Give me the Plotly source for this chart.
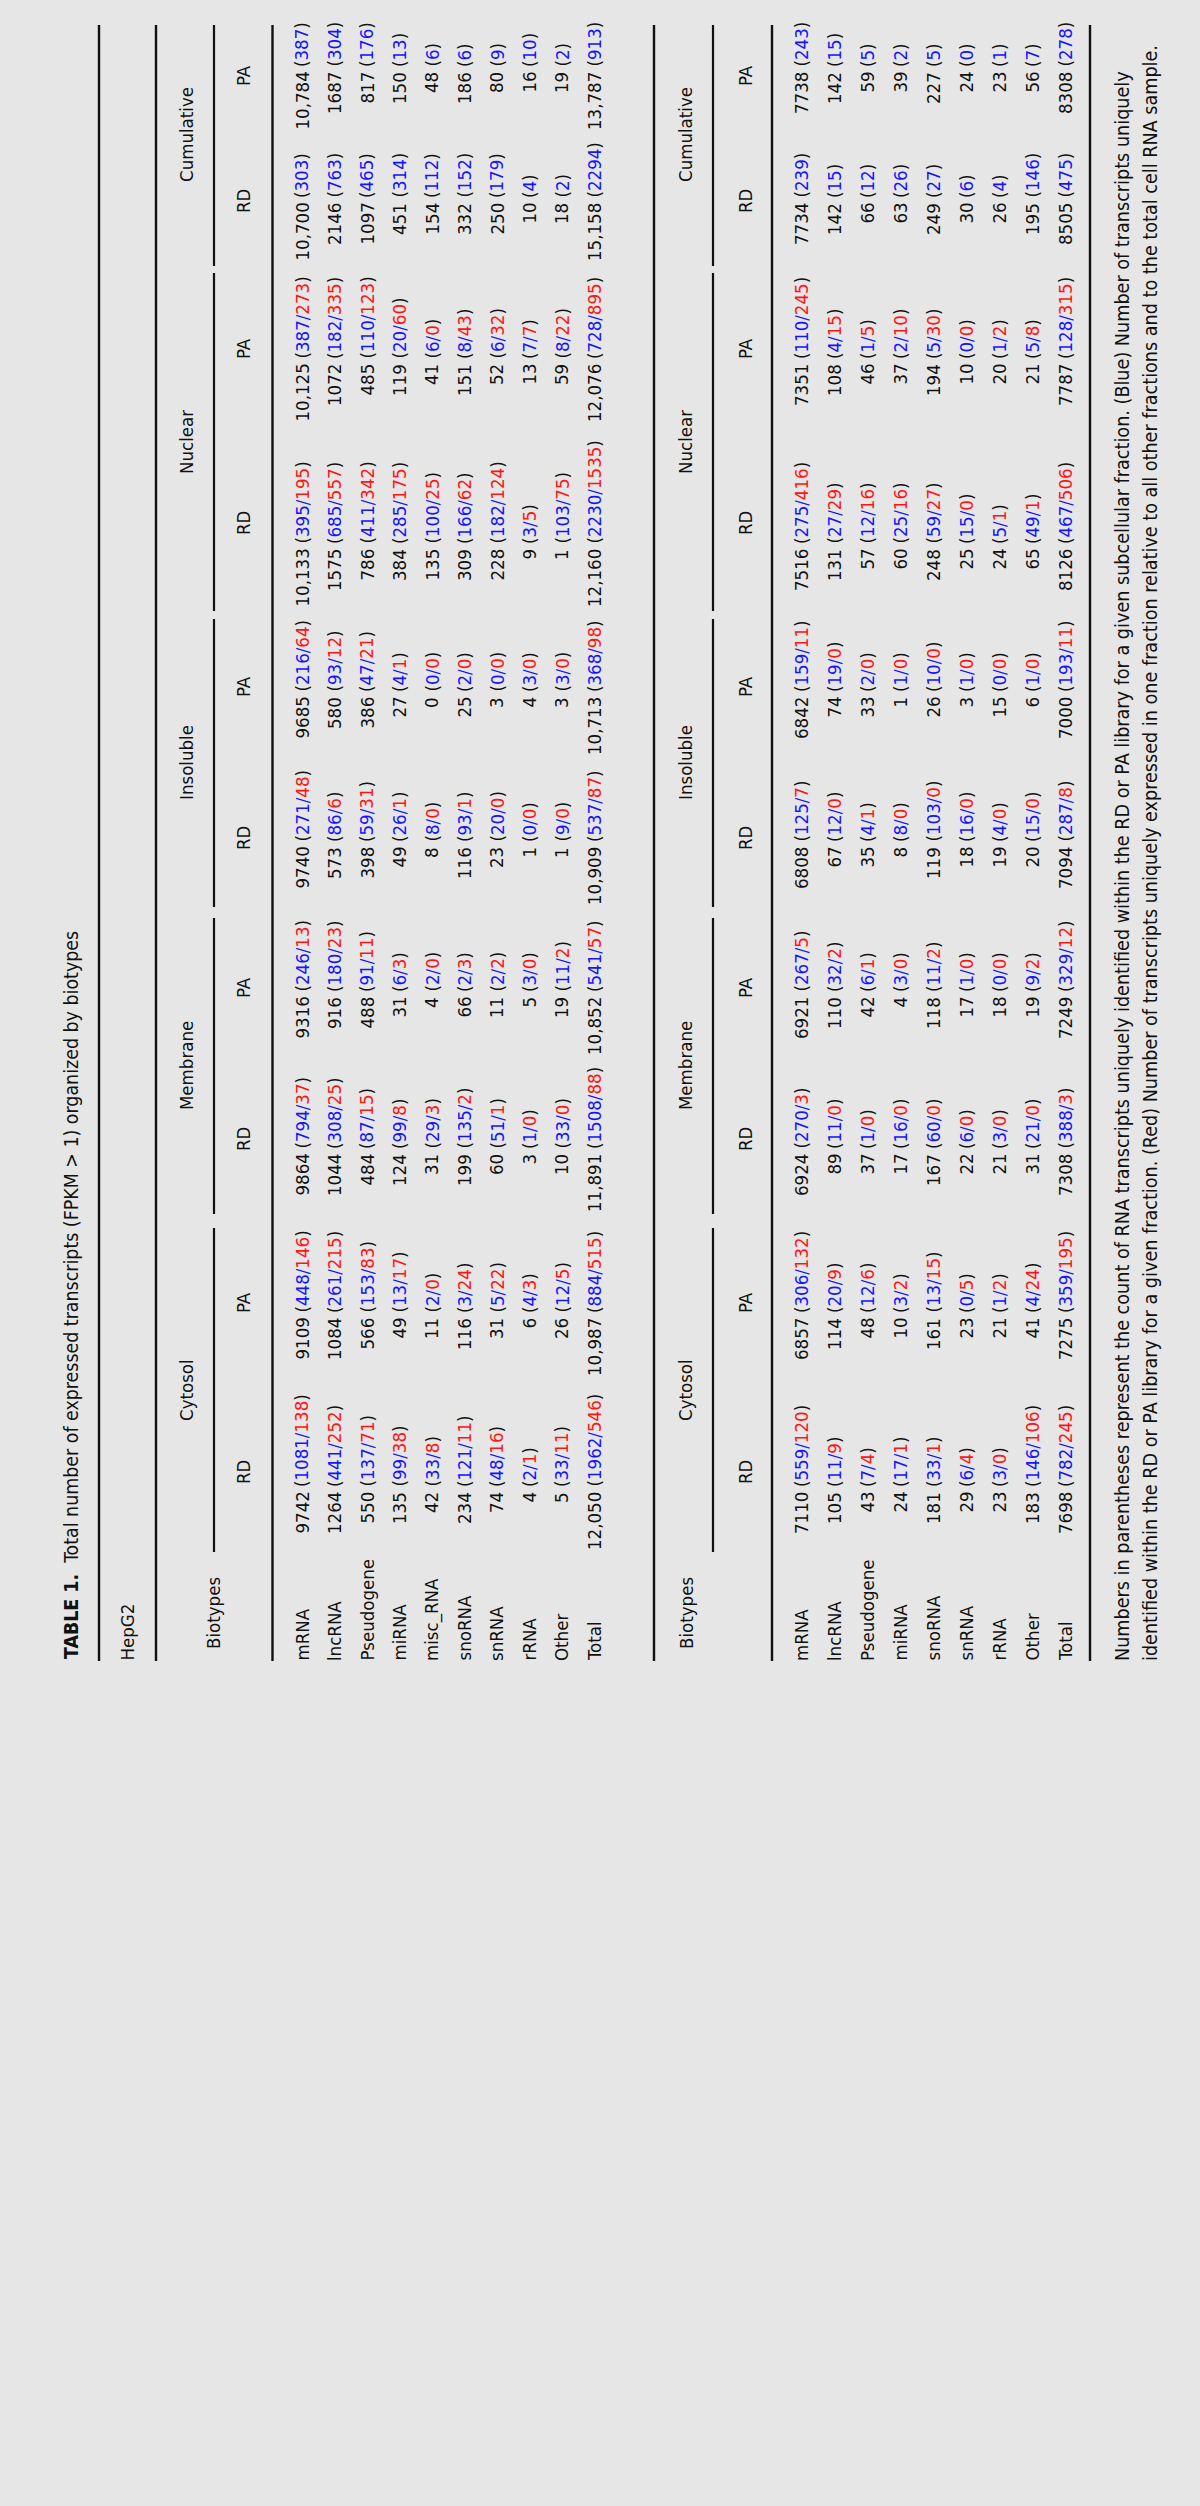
import plotly.graph_objects as go

# ------------------------------------------------------------------ data
fractions = ["Cytosol", "Membrane", "Insoluble", "Nuclear", "Cumulative"]
libraries = ["RD", "PA"]

top_biotypes = ["mRNA", "lncRNA", "Pseudogene", "miRNA", "misc_RNA", "snoRNA",
                "snRNA", "rRNA", "Other", "Total"]
bottom_biotypes = ["mRNA", "lncRNA", "Pseudogene", "miRNA", "snoRNA", "snRNA",
                   "rRNA", "Other", "Total"]

# ---- top table (HepG2)
top_cytosol_rd = [9742, 1264, 550, 135, 42, 234, 74, 4, 5, 12050]
top_cytosol_rd_blue = [1081, 441, 137, 99, 33, 121, 48, 2, 33, 1962]
top_cytosol_rd_red = [138, 252, 71, 38, 8, 11, 16, 1, 11, 546]
top_cytosol_pa = [9109, 1084, 566, 49, 11, 116, 31, 6, 26, 10987]
top_cytosol_pa_blue = [448, 261, 153, 13, 2, 3, 5, 4, 12, 884]
top_cytosol_pa_red = [146, 215, 83, 17, 0, 24, 22, 3, 5, 515]
top_membrane_rd = [9864, 1044, 484, 124, 31, 199, 60, 3, 10, 11891]
top_membrane_rd_blue = [794, 308, 87, 99, 29, 135, 51, 1, 33, 1508]
top_membrane_rd_red = [37, 25, 15, 8, 3, 2, 1, 0, 0, 88]
top_membrane_pa = [9316, 916, 488, 31, 4, 66, 11, 5, 19, 10852]
top_membrane_pa_blue = [246, 180, 91, 6, 2, 2, 2, 3, 11, 541]
top_membrane_pa_red = [13, 23, 11, 3, 0, 3, 2, 0, 2, 57]
top_insoluble_rd = [9740, 573, 398, 49, 8, 116, 23, 1, 1, 10909]
top_insoluble_rd_blue = [271, 86, 59, 26, 8, 93, 20, 0, 9, 537]
top_insoluble_rd_red = [48, 6, 31, 1, 0, 1, 0, 0, 0, 87]
top_insoluble_pa = [9685, 580, 386, 27, 0, 25, 3, 4, 3, 10713]
top_insoluble_pa_blue = [216, 93, 47, 4, 0, 2, 0, 3, 3, 368]
top_insoluble_pa_red = [64, 12, 21, 1, 0, 0, 0, 0, 0, 98]
top_nuclear_rd = [10133, 1575, 786, 384, 135, 309, 228, 9, 1, 12160]
top_nuclear_rd_blue = [395, 685, 411, 285, 100, 166, 182, 3, 103, 2230]
top_nuclear_rd_red = [195, 557, 342, 175, 25, 62, 124, 5, 75, 1535]
top_nuclear_pa = [10125, 1072, 485, 119, 41, 151, 52, 13, 59, 12076]
top_nuclear_pa_blue = [387, 182, 110, 20, 6, 8, 6, 7, 8, 728]
top_nuclear_pa_red = [273, 335, 123, 60, 0, 43, 32, 7, 22, 895]
top_cumulative_rd = [10700, 2146, 1097, 451, 154, 332, 250, 10, 18, 15158]
top_cumulative_rd_blue = [303, 763, 465, 314, 112, 152, 179, 4, 2, 2294]
top_cumulative_pa = [10784, 1687, 817, 150, 48, 186, 80, 16, 19, 13787]
top_cumulative_pa_blue = [387, 304, 176, 13, 6, 6, 9, 10, 2, 913]

# ---- bottom table
bot_cytosol_rd = [7110, 105, 43, 24, 181, 29, 23, 183, 7698]
bot_cytosol_rd_blue = [559, 11, 7, 17, 33, 6, 3, 146, 782]
bot_cytosol_rd_red = [120, 9, 4, 1, 1, 4, 0, 106, 245]
bot_cytosol_pa = [6857, 114, 48, 10, 161, 23, 21, 41, 7275]
bot_cytosol_pa_blue = [306, 20, 12, 3, 13, 0, 1, 4, 359]
bot_cytosol_pa_red = [132, 9, 6, 2, 15, 5, 2, 24, 195]
bot_membrane_rd = [6924, 89, 37, 17, 167, 22, 21, 31, 7308]
bot_membrane_rd_blue = [270, 11, 1, 16, 60, 6, 3, 21, 388]
bot_membrane_rd_red = [3, 0, 0, 0, 0, 0, 0, 0, 3]
bot_membrane_pa = [6921, 110, 42, 4, 118, 17, 18, 19, 7249]
bot_membrane_pa_blue = [267, 32, 6, 3, 11, 1, 0, 9, 329]
bot_membrane_pa_red = [5, 2, 1, 0, 2, 0, 0, 2, 12]
bot_insoluble_rd = [6808, 67, 35, 8, 119, 18, 19, 20, 7094]
bot_insoluble_rd_blue = [125, 12, 4, 8, 103, 16, 4, 15, 287]
bot_insoluble_rd_red = [7, 0, 1, 0, 0, 0, 0, 0, 8]
bot_insoluble_pa = [6842, 74, 33, 1, 26, 3, 15, 6, 7000]
bot_insoluble_pa_blue = [159, 19, 2, 1, 10, 1, 0, 1, 193]
bot_insoluble_pa_red = [11, 0, 0, 0, 0, 0, 0, 0, 11]
bot_nuclear_rd = [7516, 131, 57, 60, 248, 25, 24, 65, 8126]
bot_nuclear_rd_blue = [275, 27, 12, 25, 59, 15, 5, 49, 467]
bot_nuclear_rd_red = [416, 29, 16, 16, 27, 0, 1, 1, 506]
bot_nuclear_pa = [7351, 108, 46, 37, 194, 10, 20, 21, 7787]
bot_nuclear_pa_blue = [110, 4, 1, 2, 5, 0, 1, 5, 128]
bot_nuclear_pa_red = [245, 15, 5, 10, 30, 0, 2, 8, 315]
bot_cumulative_rd = [7734, 142, 66, 63, 249, 30, 26, 195, 8505]
bot_cumulative_rd_blue = [239, 15, 12, 26, 27, 6, 4, 146, 475]
bot_cumulative_pa = [7738, 142, 59, 39, 227, 24, 23, 56, 8308]
bot_cumulative_pa_blue = [243, 15, 5, 2, 5, 0, 1, 7, 278]

title_bold = "TABLE 1."
title_text = "Total number of expressed transcripts (FPKM > 1) organized by biotypes"
cell_line = "HepG2"
stub_header = "Biotypes"
footnote_lines = [
    "Numbers in parentheses represent the count of RNA transcripts uniquely identified "
    "within the RD or PA library for a given subcellular fraction. (Blue) Number of transcripts uniquely",
    "identified within the RD or PA library for a given fraction. (Red) Number of transcripts uniquely "
    "expressed in one fraction relative to all other fractions and to the total cell RNA sample.",
]

top_columns = [
    ("Cytosol", "RD", top_cytosol_rd, top_cytosol_rd_blue, top_cytosol_rd_red),
    ("Cytosol", "PA", top_cytosol_pa, top_cytosol_pa_blue, top_cytosol_pa_red),
    ("Membrane", "RD", top_membrane_rd, top_membrane_rd_blue, top_membrane_rd_red),
    ("Membrane", "PA", top_membrane_pa, top_membrane_pa_blue, top_membrane_pa_red),
    ("Insoluble", "RD", top_insoluble_rd, top_insoluble_rd_blue, top_insoluble_rd_red),
    ("Insoluble", "PA", top_insoluble_pa, top_insoluble_pa_blue, top_insoluble_pa_red),
    ("Nuclear", "RD", top_nuclear_rd, top_nuclear_rd_blue, top_nuclear_rd_red),
    ("Nuclear", "PA", top_nuclear_pa, top_nuclear_pa_blue, top_nuclear_pa_red),
    ("Cumulative", "RD", top_cumulative_rd, top_cumulative_rd_blue, None),
    ("Cumulative", "PA", top_cumulative_pa, top_cumulative_pa_blue, None),
]
bottom_columns = [
    ("Cytosol", "RD", bot_cytosol_rd, bot_cytosol_rd_blue, bot_cytosol_rd_red),
    ("Cytosol", "PA", bot_cytosol_pa, bot_cytosol_pa_blue, bot_cytosol_pa_red),
    ("Membrane", "RD", bot_membrane_rd, bot_membrane_rd_blue, bot_membrane_rd_red),
    ("Membrane", "PA", bot_membrane_pa, bot_membrane_pa_blue, bot_membrane_pa_red),
    ("Insoluble", "RD", bot_insoluble_rd, bot_insoluble_rd_blue, bot_insoluble_rd_red),
    ("Insoluble", "PA", bot_insoluble_pa, bot_insoluble_pa_blue, bot_insoluble_pa_red),
    ("Nuclear", "RD", bot_nuclear_rd, bot_nuclear_rd_blue, bot_nuclear_rd_red),
    ("Nuclear", "PA", bot_nuclear_pa, bot_nuclear_pa_blue, bot_nuclear_pa_red),
    ("Cumulative", "RD", bot_cumulative_rd, bot_cumulative_rd_blue, None),
    ("Cumulative", "PA", bot_cumulative_pa, bot_cumulative_pa_blue, None),
]

# ------------------------------------------------------------------ styling / geometry
BG = "#e6e6e6"
INK = "#111111"
BLUE = "#1414ff"
RED = "#ff1414"
FONT = "'DejaVu Sans Condensed', 'DejaVu Sans', sans-serif"
FS = 18.5
W, H = 1200, 2506

TABLE_TOP = 25        # page y where the (rotated) table ends
TABLE_START = 1661    # page y where the (rotated) table starts
RULES_X = [99, 156, 272.5, 654, 772, 1090]

# number-end position of each sub column (page y)
NUM_END = {("Cytosol", "RD"): 1492, ("Cytosol", "PA"): 1318,
           ("Membrane", "RD"): 1154, ("Membrane", "PA"): 997,
           ("Insoluble", "RD"): 847, ("Insoluble", "PA"): 697,
           ("Nuclear", "RD"): 549, ("Nuclear", "PA"): 364,
           ("Cumulative", "RD"): 203, ("Cumulative", "PA"): 72}
SUB_CENTER = {("Cytosol", "RD"): 1472, ("Cytosol", "PA"): 1303,
              ("Membrane", "RD"): 1139, ("Membrane", "PA"): 988,
              ("Insoluble", "RD"): 838, ("Insoluble", "PA"): 687,
              ("Nuclear", "RD"): 523, ("Nuclear", "PA"): 349,
              ("Cumulative", "RD"): 201, ("Cumulative", "PA"): 76}
GROUP_SPAN = {"Cytosol": (1228, 1552), "Membrane": (918, 1214),
              "Insoluble": (619, 907), "Nuclear": (273, 611),
              "Cumulative": (25, 266)}
GROUP_CENTER = {"Cytosol": 1390, "Membrane": 1066, "Insoluble": 763,
                "Nuclear": 442, "Cumulative": 135}
GAP = 5

TABLES = [
    dict(biotypes=top_biotypes, columns=top_columns, group_x=186, line_x=214,
         sub_x=243, stub_x=213, row0=301.5, step=32.5),
    dict(biotypes=bottom_biotypes, columns=bottom_columns, group_x=685, line_x=713,
         sub_x=745, stub_x=686, row0=801, step=33.0),
]


def fmt(v):
    return f"{v:,}" if v >= 10000 else str(v)


def paren(b, r):
    if r is None:
        return f'(<span style="color:{BLUE}">{b}</span>)'
    return (f'(<span style="color:{BLUE}">{b}/</span>'
            f'<span style="color:{RED}">{r}</span>)')


def txt(text, x, y, xa="center", ya="middle", size=FS, color=INK):
    return dict(text=text, x=x, y=y, xref="x", yref="y", showarrow=False,
                textangle=-90, xanchor=xa, yanchor=ya, borderpad=0, borderwidth=0,
                font=dict(family=FONT, size=size, color=color))


fig = go.Figure()
fig.add_trace(go.Scatter(x=[0, W], y=[0, H], mode="markers",
                         marker=dict(opacity=0), hoverinfo="skip", showlegend=False))

ann = []
shapes = []

# title, cell line, footnote
ann.append(txt(f"<b>{title_bold}</b>\u00a0\u00a0{title_text}", 71, TABLE_START - 2,
               ya="bottom", size=19.4))
ann.append(txt(cell_line, 127, TABLE_START, ya="bottom"))
for fx, line in zip([1122, 1150], footnote_lines):
    ann.append(txt(line, fx, TABLE_START, ya="bottom", size=19.6))

# horizontal rules (rotated -> vertical on the page)
for rx in RULES_X:
    shapes.append(dict(type="line", xref="x", yref="y", x0=rx, x1=rx,
                       y0=TABLE_TOP, y1=TABLE_START,
                       line=dict(color=INK, width=2.4)))

for tb in TABLES:
    ann.append(txt(stub_header, tb["stub_x"], TABLE_START - 12, ya="bottom"))
    for frac in fractions:
        y0, y1 = GROUP_SPAN[frac]
        ann.append(txt(frac, tb["group_x"], GROUP_CENTER[frac]))
        shapes.append(dict(type="line", xref="x", yref="y", x0=tb["line_x"],
                           x1=tb["line_x"], y0=y0, y1=y1,
                           line=dict(color=INK, width=2.2)))
    for i, name in enumerate(tb["biotypes"]):
        ann.append(txt(name, tb["row0"] + i * tb["step"], TABLE_START, ya="bottom"))
    for frac, lib, vals, blue, red in tb["columns"]:
        e = NUM_END[(frac, lib)]
        ann.append(txt(lib, tb["sub_x"], SUB_CENTER[(frac, lib)]))
        for i, v in enumerate(vals):
            x = tb["row0"] + i * tb["step"]
            ann.append(txt(fmt(v), x, e, ya="top"))
            r = None if red is None else red[i]
            ann.append(txt(paren(blue[i], r), x, e - GAP, ya="bottom"))

fig.update_layout(
    width=W, height=H, margin=dict(l=0, r=0, t=0, b=0),
    paper_bgcolor=BG, plot_bgcolor=BG, showlegend=False,
    xaxis=dict(range=[0, W], visible=False, fixedrange=True),
    yaxis=dict(range=[H, 0], visible=False, fixedrange=True),
    annotations=ann, shapes=shapes,
)

fig.write_html(
    "out.html",
    include_plotlyjs=True,
    config={"displayModeBar": False, "staticPlot": True},
    post_script="document.body.style.margin='0';document.body.style.background='%s';"
                "document.body.style.overflow='hidden';" % BG,
)
